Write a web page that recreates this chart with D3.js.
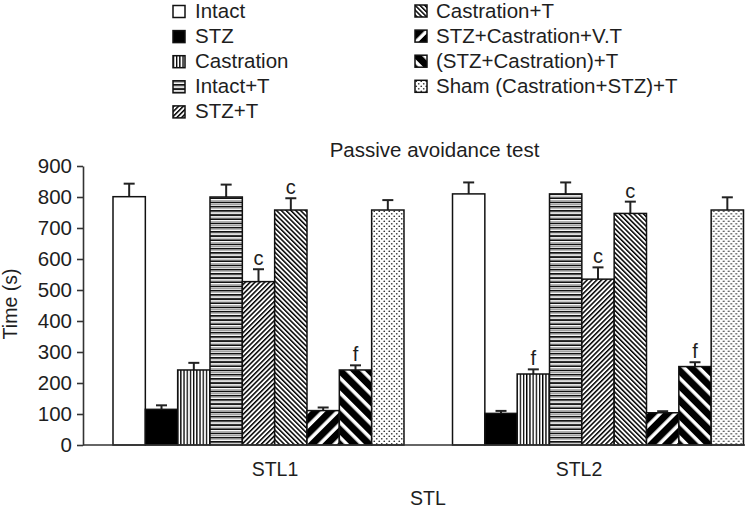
<!DOCTYPE html>
<html>
<head>
<meta charset="utf-8">
<script src="https://cdn.jsdelivr.net/npm/d3@7"></script>
<style>
  html, body { margin: 0; padding: 0; background: #fff; }
  svg { display: block; font-family: "Liberation Sans", Arial, sans-serif; }
</style>
</head>
<body>
<svg id="chart" width="750" height="510"></svg>
<script>
// ---- data ----
const groups = ["STL1", "STL2"];
const seriesNames = [
  "Intact", "STZ", "Castration", "Intact+T", "STZ+T",
  "Castration+T", "STZ+Castration+V.T", "(STZ+Castration)+T", "Sham (Castration+STZ)+T"
];
const stl1Values = [801, 115, 242, 800, 527, 758, 111, 242, 758];
const stl2Values = [810, 102, 229, 810, 535, 747, 104, 253, 758];
const stl1Errors = [42, 13, 23, 40, 40, 38, 10, 15, 32];
const stl2Errors = [37, 8, 15, 37, 38, 38, 5, 14, 41];
const stl1Marks = ["", "", "", "", "c", "c", "", "f", ""];
const stl2Marks = ["", "", "f", "", "c", "c", "", "f", ""];
const yTicks = [0, 100, 200, 300, 400, 500, 600, 700, 800, 900];
const patternIds = ["white", "black", "vlines", "hlines", "diagThinUp", "diagThinDown", "diagThickUp", "diagThickDown", "dots"];

const valuesByGroup = { STL1: stl1Values, STL2: stl2Values };
const errorsByGroup = { STL1: stl1Errors, STL2: stl2Errors };
const marksByGroup = { STL1: stl1Marks, STL2: stl2Marks };

const svg = d3.select("#chart");
const textColor = "#1e1e1e";

// ---- patterns ----
const defs = svg.append("defs");
function stripePattern(id, period, ink, angle) {
  const p = defs.append("pattern").attr("id", id)
    .attr("patternUnits", "userSpaceOnUse")
    .attr("width", period).attr("height", period)
    .attr("patternTransform", `rotate(${angle})`);
  p.append("rect").attr("width", period).attr("height", period).attr("fill", "#fff");
  p.append("rect").attr("x", 0).attr("y", 0).attr("width", ink).attr("height", period).attr("fill", "#000");
}
stripePattern("vlines", 3.2, 1.3, 0);
{
  const p = defs.append("pattern").attr("id", "hlines")
    .attr("patternUnits", "userSpaceOnUse").attr("width", 8).attr("height", 4.2);
  p.append("rect").attr("width", 8).attr("height", 4.2).attr("fill", "#fff");
  p.append("rect").attr("y", 0).attr("width", 8).attr("height", 1.7).attr("fill", "#111");
  p.append("rect").attr("y", 2.6).attr("width", 8).attr("height", 0.7).attr("fill", "#888");
}
stripePattern("diagThinUp", 3.4, 1.5, 45);
stripePattern("diagThinDown", 3.4, 1.5, -45);
stripePattern("diagThickUp", 10.5, 7, 45);
stripePattern("diagThickDown", 10.5, 7, -45);
{
  const p = defs.append("pattern").attr("id", "dots")
    .attr("patternUnits", "userSpaceOnUse").attr("width", 5).attr("height", 5);
  p.append("rect").attr("width", 5).attr("height", 5).attr("fill", "#fff");
  p.append("circle").attr("cx", 1.25).attr("cy", 1.25).attr("r", 0.85).attr("fill", "#333");
  p.append("circle").attr("cx", 3.75).attr("cy", 3.75).attr("r", 0.85).attr("fill", "#333");
}
function fillFor(i) {
  const id = patternIds[i];
  if (id === "white") return "#fff";
  if (id === "black") return "#000";
  return `url(#${id})`;
}

// ---- scales ----
const y = d3.scaleLinear().domain([0, 900]).range([445, 166]);
const xGroup = d3.scaleBand().domain(groups).range([113, 743.5]).paddingInner(0.1429).paddingOuter(0);
const xSeries = d3.scaleBand().domain(seriesNames).range([0, xGroup.bandwidth()]).padding(0);
const xLabel = d3.scaleBand().domain(groups).range([123, 731]).padding(0);

// ---- axes ----
const yAxis = d3.axisLeft(y).tickValues(yTicks).tickSize(6).tickSizeOuter(0).tickPadding(5);
const gy = svg.append("g").attr("transform", "translate(83,0)").call(yAxis);
gy.select(".domain").attr("stroke", "#333").attr("stroke-width", 1.6);
gy.selectAll(".tick line").attr("stroke", "#333").attr("stroke-width", 1.6);
gy.selectAll(".tick text").attr("fill", textColor).style("font-size", "20.5px")
  .style("font-family", "'Liberation Sans', Arial, sans-serif");

// bars
const barG = svg.append("g");
groups.forEach(g => {
  const gg = barG.append("g").attr("transform", `translate(${xGroup(g)},0)`);
  seriesNames.forEach((s, i) => {
    const v = valuesByGroup[g][i];
    const e = errorsByGroup[g][i];
    const x0 = xSeries(s);
    const w = xSeries.bandwidth();
    const cx = x0 + w / 2;
    // error bar
    gg.append("line").attr("x1", cx).attr("x2", cx).attr("y1", y(v)).attr("y2", y(v + e))
      .attr("stroke", "#222").attr("stroke-width", 2);
    gg.append("line").attr("x1", cx - 5.5).attr("x2", cx + 5.5).attr("y1", y(v + e)).attr("y2", y(v + e))
      .attr("stroke", "#222").attr("stroke-width", 2);
    gg.append("rect").attr("x", x0).attr("y", y(v)).attr("width", w).attr("height", y(0) - y(v))
      .attr("fill", fillFor(i)).attr("stroke", "#111").attr("stroke-width", 1.5);
    const m = marksByGroup[g][i];
    if (m) {
      gg.append("text").attr("x", cx).attr("y", y(v + e) - 4).attr("text-anchor", "middle")
        .attr("fill", textColor).style("font-size", "20px").text(m);
    }
  });
});

// x axis
const xAxis = d3.axisBottom(xLabel).tickSize(0).tickPadding(17);
const gx = svg.append("g").attr("transform", "translate(0,445)").call(xAxis);
gx.select(".domain").remove();
gx.selectAll(".tick text").attr("fill", textColor).style("font-size", "19.5px")
  .style("font-family", "'Liberation Sans', Arial, sans-serif");
svg.append("line").attr("x1", 83).attr("x2", 745).attr("y1", y(0)).attr("y2", y(0))
  .attr("stroke", "#333").attr("stroke-width", 1.6);

// titles
svg.append("text").attr("x", 434.5).attr("y", 156.5).attr("text-anchor", "middle")
  .attr("fill", textColor).style("font-size", "20.5px").text("Passive avoidance test");
svg.append("text").attr("x", 428).attr("y", 505).attr("text-anchor", "middle")
  .attr("fill", textColor).style("font-size", "19.5px").text("STL");
svg.append("text").attr("transform", "translate(17,304) rotate(-90)").attr("text-anchor", "middle")
  .attr("fill", textColor).style("font-size", "19.5px").text("Time (s)");

// legend
const legendCols = [{ x: 173, tx: 195, base: 18 }, { x: 415, tx: 436, base: 17.5 }];
seriesNames.forEach((s, i) => {
  const col = legendCols[i < 5 ? 0 : 1];
  const row = i < 5 ? i : i - 5;
  const by = col.base + row * 25.1;
  const lg = svg.append("g");
  lg.append("rect").attr("x", col.x).attr("y", by - 12.5).attr("width", 12).attr("height", 12)
    .attr("fill", fillFor(i)).attr("stroke", "#111").attr("stroke-width", 1.5);
  lg.append("text").attr("x", col.tx).attr("y", by).attr("fill", textColor)
    .style("font-size", "20.5px").text(s);
});
</script>
</body>
</html>
